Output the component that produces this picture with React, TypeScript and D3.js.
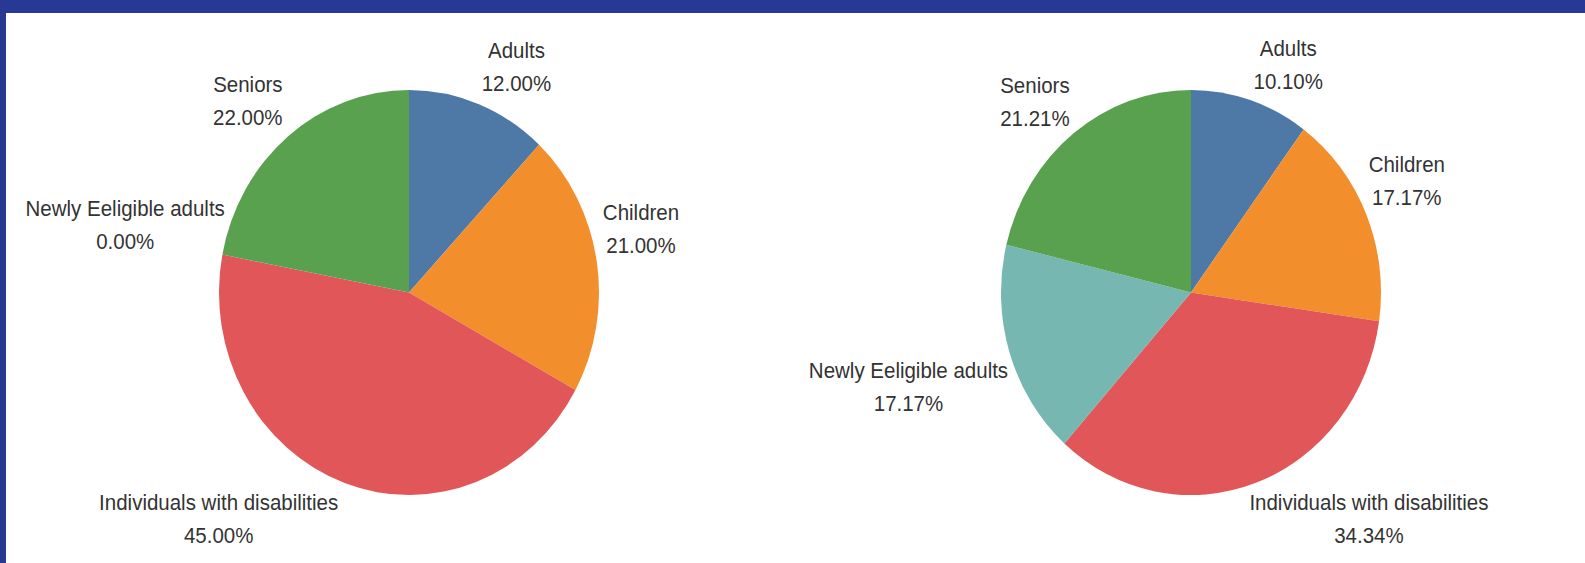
import React from "react";
import * as d3 from "d3";

// ---- Data ----
const categories = [
  "Adults",
  "Children",
  "Individuals with disabilities",
  "Newly Eeligible adults",
  "Seniors",
];
const chart1Values = [12.0, 21.0, 45.0, 0.0, 22.0];
const chart2Values = [10.1, 17.17, 34.34, 17.17, 21.21];
const colors = ["#4e79a7", "#f28e2b", "#e15759", "#76b7b2", "#59a14f"];

// ---- Layout (label placement: angle offset in degrees, radius factor) ----
const chart1LabelLayout = [
  { dA: 5.3, k: 1.25 },
  { dA: -5.3, k: 1.26 },
  { dA: 22.1, k: 1.5 },
  { dA: 1.7, k: 1.53 },
  { dA: -2.3, k: 1.27 },
];
const chart2LabelLayout = [
  { dA: 6.3, k: 1.235 },
  { dA: -3.2, k: 1.263 },
  { dA: -19.9, k: 1.46 },
  { dA: -0.1, k: 1.558 },
  { dA: -2.9, k: 1.25 },
];

const W = 1585;
const H = 563;
const R = 190;
const SY = 1.066; // vertical stretch of the reference
const CY = 292.5;
const FONT = 20.5;
const LINE = 31;

type PieProps = {
  cx: number;
  values: number[];
  layout: { dA: number; k: number }[];
};

function Pie({ cx, values, layout }: PieProps) {
  const pie = d3
    .pie<number>()
    .sort(null)
    .value((d) => d)(values);
  const arc = d3.arc<d3.PieArcDatum<number>>().innerRadius(0).outerRadius(R);
  return (
    <g>
      <g transform={`translate(${cx},${CY}) scale(1,${SY})`}>
        {pie.map((p, i) => (
          <path key={i} d={arc(p) || ""} fill={colors[i]} />
        ))}
      </g>
      {pie.map((p, i) => {
        const mid = (p.startAngle + p.endAngle) / 2 + (layout[i].dA * Math.PI) / 180;
        const k = layout[i].k;
        const x = cx + Math.sin(mid) * R * k;
        const y = CY - Math.cos(mid) * R * SY * k;
        return (
          <g key={"l" + i} transform={`translate(${x},${y}) scale(1,${SY})`}>
            <text
              textAnchor="middle"
              fontFamily="'Liberation Sans', Arial, sans-serif"
              fontSize={FONT}
              fill="#333333"
            >
              <tspan x={0} y={-LINE / 2 + 7}>
                {categories[i]}
              </tspan>
              <tspan x={0} y={LINE / 2 + 7}>
                {values[i].toFixed(2) + "%"}
              </tspan>
            </text>
          </g>
        );
      })}
    </g>
  );
}

export default function App() {
  return (
    <svg
      width={W}
      height={H}
      style={{ position: "absolute", left: 0, top: 0, display: "block" }}
    >
      <rect x={0} y={0} width={W} height={H} fill="#ffffff" />
      <rect x={0} y={0} width={W} height={13} fill="#283895" />
      <rect x={0} y={0} width={6} height={H} fill="#283895" />
      <Pie cx={409} values={chart1Values} layout={chart1LabelLayout} />
      <Pie cx={1191} values={chart2Values} layout={chart2LabelLayout} />
    </svg>
  );
}
